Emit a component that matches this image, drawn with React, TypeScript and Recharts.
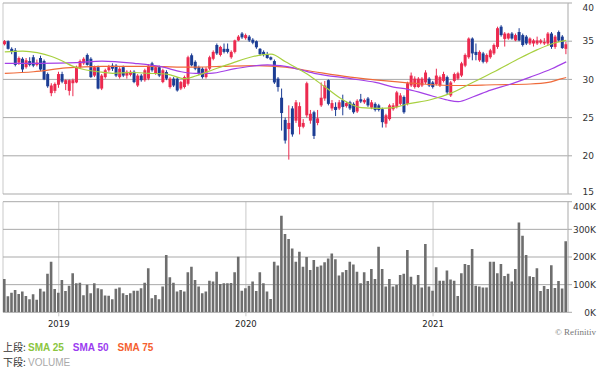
import React from 'react';
import { ComposedChart, BarChart, Bar, Line, XAxis, YAxis, CartesianGrid } from 'recharts';

// ---- data (weekly) ----
const START_MS = Date.UTC(2018, 8, 21);
const WEEK_MS = 7 * 24 * 3600 * 1000;

const opens = [
  34.6, 35.0, 34.0, 33.8, 32.2, 32.7, 31.6, 32.4, 32.9, 31.9,
  32.8, 32.4, 30.7, 28.2, 28.5, 29.3, 30.7, 29.4, 28.5, 29.5,
  29.6, 31.6, 32.1, 33.2, 32.7, 30.5, 31.6, 28.8, 30.3, 31.2,
  31.8, 31.8, 30.3, 31.6, 30.5, 30.6, 31.0, 29.2, 30.5, 29.9,
  30.1, 32.1, 30.75, 31.6, 29.65, 30.96, 29.0, 30.1, 30.1, 28.8,
  29.0, 29.43, 33.16, 32.3, 31.6, 31.4, 30.3, 31.4, 32.7, 34.5,
  33.2, 34.0, 34.0, 32.9, 33.6, 35.1, 36.0, 35.4, 35.6, 35.2,
  35.0, 34.0, 33.6, 33.3, 32.9, 32.4, 30.1, 27.6, 24.7, 23.5,
  26.2, 24.6, 23.8, 23.8, 25.3, 24.6, 25.7, 24.3, 26.6, 27.5,
  29.9, 26.2, 26.4, 26.2, 27.3, 26.5, 27.0, 26.8, 25.8, 27.4,
  27.0, 27.5, 26.3, 26.8, 26.6, 26.1, 24.2, 24.8, 26.1, 26.4,
  26.8, 27.7, 26.8, 29.2, 29.0, 29.0, 29.2, 29.6, 30.1, 29.6,
  29.4, 29.2, 29.8, 30.3, 27.9, 29.8, 30.1, 30.5, 31.8, 32.9,
  35.35, 33.6, 32.5, 33.4, 32.3, 32.9, 33.4, 34.25, 36.9, 35.3,
  35.35, 36.0, 35.1, 36.2, 35.8, 35.6, 34.7, 34.7, 34.7, 34.8,
  34.7, 34.7, 36.0, 34.25, 36.2, 35.6, 34.0,
];
const highs = [
  35.15, 35.1, 34.2, 34.1, 33.0, 32.9, 32.8, 32.9, 33.2, 32.6,
  33.1, 32.6, 30.9, 29.5, 29.6, 31.0, 31.0, 30.0, 30.0, 30.1,
  31.8, 32.6, 32.9, 33.4, 32.9, 31.8, 31.8, 30.7, 31.4, 31.9,
  32.1, 32.0, 31.6, 31.8, 31.2, 31.2, 31.2, 30.7, 30.7, 31.4,
  32.0, 32.3, 31.8, 31.8, 31.4, 31.2, 30.3, 30.3, 30.3, 29.8,
  30.5, 33.1, 33.4, 32.5, 31.8, 31.6, 31.6, 33.1, 33.8, 34.7,
  34.4, 34.7, 34.7, 33.8, 35.2, 35.8, 36.2, 36.0, 35.8, 35.4,
  35.1, 34.1, 33.8, 33.6, 33.0, 32.6, 30.3, 28.8, 25.0, 26.6,
  26.5, 27.3, 27.0, 24.8, 29.7, 26.0, 25.9, 26.0, 29.6, 29.8,
  30.0, 27.3, 27.0, 27.3, 28.0, 27.1, 27.2, 27.0, 27.4, 28.1,
  27.5, 27.7, 27.3, 27.0, 26.8, 26.3, 25.5, 26.8, 26.9, 28.5,
  28.2, 27.9, 29.7, 30.9, 30.4, 30.3, 30.3, 31.2, 30.3, 29.8,
  31.4, 30.5, 31.0, 30.5, 29.8, 30.9, 31.0, 32.3, 33.4, 35.5,
  35.5, 34.7, 33.8, 33.6, 33.4, 34.0, 34.7, 36.9, 37.1, 36.2,
  36.1, 36.2, 36.0, 36.7, 36.0, 35.8, 35.5, 35.3, 35.6, 35.3,
  35.4, 36.2, 36.2, 35.8, 36.4, 35.8, 34.9,
];
const lows = [
  34.45, 33.9, 33.3, 31.7, 31.9, 30.9, 31.4, 31.7, 31.6, 31.7,
  31.1, 29.9, 28.9, 27.8, 28.2, 28.9, 29.5, 28.6, 27.9, 27.8,
  29.5, 31.4, 31.9, 31.8, 30.2, 30.3, 28.7, 28.6, 30.1, 31.0,
  31.1, 30.3, 30.1, 30.3, 30.1, 30.4, 29.5, 29.0, 29.7, 29.7,
  29.9, 31.0, 30.6, 30.3, 29.5, 29.9, 28.8, 29.0, 28.4, 28.6,
  28.8, 29.2, 31.7, 31.2, 30.6, 30.1, 30.1, 31.2, 32.5, 33.2,
  33.0, 33.4, 33.4, 32.7, 33.4, 35.0, 35.3, 35.2, 34.9, 34.6,
  34.0, 33.1, 33.0, 32.7, 32.5, 29.4, 28.4, 23.3, 21.6, 19.5,
  22.5, 24.3, 22.8, 23.6, 25.0, 24.2, 22.2, 24.0, 26.4, 27.2,
  26.6, 25.9, 25.2, 26.0, 25.3, 26.3, 26.0, 25.5, 25.6, 26.9,
  26.8, 26.4, 26.1, 25.8, 25.8, 23.7, 23.7, 24.6, 25.9, 26.2,
  26.6, 25.5, 26.6, 29.0, 28.8, 28.9, 29.0, 29.4, 29.0, 28.8,
  29.2, 29.0, 29.6, 28.0, 27.7, 29.6, 29.9, 30.3, 31.6, 32.7,
  32.5, 32.5, 32.3, 32.1, 32.1, 32.7, 33.2, 34.0, 35.6, 34.3,
  35.2, 35.2, 35.0, 35.0, 34.3, 34.5, 34.5, 34.3, 34.5, 34.6,
  34.5, 34.5, 34.0, 34.0, 34.9, 34.0, 33.3,
];
const closes = [
  35.0, 34.0, 33.6, 31.9, 32.8, 31.3, 32.5, 31.9, 31.8, 32.2,
  31.3, 30.0, 29.1, 29.2, 29.4, 30.7, 29.7, 29.9, 29.9, 29.9,
  31.6, 32.4, 32.7, 31.9, 30.3, 31.6, 28.8, 30.5, 31.2, 31.6,
  31.4, 30.5, 31.4, 30.5, 31.0, 31.0, 29.65, 30.5, 29.9, 31.2,
  31.8, 31.2, 31.6, 30.5, 31.2, 30.1, 30.1, 29.2, 28.55, 29.65,
  30.3, 32.9, 31.84, 31.4, 30.75, 30.3, 31.4, 32.9, 33.6, 33.4,
  34.25, 33.6, 33.6, 33.6, 35.1, 35.6, 35.5, 35.8, 35.1, 34.8,
  34.2, 33.3, 33.2, 32.8, 32.6, 29.6, 29.0, 25.6, 22.0, 24.3,
  22.8, 27.0, 26.5, 24.3, 29.5, 25.5, 22.6, 24.9, 27.6, 29.2,
  26.8, 26.9, 26.0, 27.0, 26.4, 26.9, 26.2, 25.7, 27.2, 27.1,
  27.3, 26.6, 27.0, 26.0, 26.0, 24.4, 25.3, 26.6, 26.6, 28.3,
  27.9, 25.7, 29.5, 30.5, 30.1, 30.1, 30.1, 30.9, 29.2, 29.0,
  30.5, 30.3, 30.7, 28.3, 29.6, 30.7, 30.8, 32.1, 33.2, 35.35,
  33.4, 33.2, 33.6, 32.3, 33.2, 33.8, 34.5, 36.7, 35.8, 36.0,
  36.0, 35.35, 35.8, 35.1, 34.5, 34.7, 35.35, 35.1, 35.1, 35.1,
  34.9, 36.0, 34.25, 35.6, 35.1, 34.1, 34.6,
];
const volumesK = [
  120, 58, 71, 81, 66, 75, 59, 47, 65, 45,
  85, 75, 139, 183, 84, 71, 117, 77, 96, 141,
  105, 107, 62, 100, 69, 105, 87, 83, 61, 60,
  47, 85, 90, 69, 63, 69, 78, 78, 87, 107,
  159, 51, 63, 47, 93, 207, 127, 107, 75, 81,
  75, 145, 165, 117, 93, 69, 75, 114, 111, 147,
  102, 105, 105, 106, 145, 201, 78, 87, 96, 111,
  77, 145, 105, 75, 48, 183, 169, 349, 283, 265,
  231, 183, 219, 165, 200, 153, 189, 165, 169, 181,
  195, 213, 192, 133, 145, 153, 183, 173, 147, 105,
  145, 113, 157, 120, 237, 157, 93, 120, 93, 99,
  135, 139, 225, 129, 99, 135, 90, 247, 93, 78,
  163, 114, 114, 151, 119, 114, 59, 141, 175, 171,
  229, 96, 93, 90, 90, 183, 183, 141, 175, 131,
  139, 111, 157, 325, 277, 207, 130, 128, 159, 77,
  95, 84, 170, 88, 113, 86, 257,
];

// moving averages at sample weeks
const sma25Idx = [0, 5, 9, 13, 16, 19, 22, 26, 30, 35, 40, 45, 50, 54, 58, 63, 69, 74, 78, 84, 89, 94, 99, 104, 108, 112, 118, 124, 130, 136, 142, 148, 153, 156];
const sma25Val = [33.6, 33.7, 33.5, 33.0, 32.4, 31.7, 31.3, 31.0, 30.8, 30.9, 30.8, 30.7, 30.1, 30.6, 31.3, 32.1, 33.0, 33.3, 32.3, 30.7, 29.0, 27.3, 26.3, 26.2, 26.3, 26.8, 27.3, 28.2, 29.6, 31.0, 32.5, 33.9, 34.8, 35.1];
const sma50Idx = [0, 10, 20, 27, 36, 44, 49, 53, 57, 64, 73, 78, 86, 96, 103, 108, 112, 119, 123, 126, 130, 135, 140, 146, 152, 156];
const sma50Val = [32.1, 32.1, 32.2, 32.4, 32.1, 31.6, 31.0, 30.8, 30.8, 31.4, 31.9, 31.7, 30.8, 30.1, 29.6, 29.0, 28.7, 27.8, 27.3, 27.1, 27.7, 28.6, 29.3, 30.3, 31.4, 32.3];
const sma75Idx = [0, 8, 17, 27, 40, 52, 60, 70, 78, 86, 96, 106, 116, 126, 136, 146, 151, 154, 156];
const sma75Val = [30.8, 31.0, 31.5, 31.7, 31.7, 31.6, 31.7, 31.8, 31.6, 31.0, 30.3, 29.8, 29.4, 29.2, 29.3, 29.4, 29.6, 30.0, 30.25];

const weeks = opens.map((_, i) => new Date(START_MS + i * WEEK_MS).toISOString().slice(0, 10));
const yearTicks = ['2019-01-04', '2020-01-03', '2021-01-01'];
const yearLabels = ['2019', '2020', '2021'];
const priceTicks = [15, 20, 25, 30, 35, 40];
const volumeTicks = [0, 100000, 200000, 300000, 400000];

function pick(idx: number[], val: number[], i: number): number | null {
  const k = idx.indexOf(i);
  return k >= 0 ? val[k] : null;
}

const data = weeks.map((d, i) => ({
  d,
  o: opens[i],
  h: highs[i],
  l: lows[i],
  c: closes[i],
  v: volumesK[i] * 1000,
  s25: pick(sma25Idx, sma25Val, i),
  s50: pick(sma50Idx, sma50Val, i),
  s75: pick(sma75Idx, sma75Val, i),
}));

// ---- styles ----
const RED = '#ec2a4f';
const BLUE = '#1c3d94';
const GRID = '#a9a9a9';
const VGRID = '#c9c9c9';
const BORDER = '#c4c4c4';
const FONT = '"DejaVu Sans", sans-serif';

const Candle = (props: any) => {
  const { x, y, width, height, payload } = props;
  if (!payload) return null;
  const top = height < 0 ? y + height : y;
  const hh = Math.abs(height);
  const { o, h, l, c } = payload;
  const up = c >= o;
  const color = up ? RED : BLUE;
  const ppu = h - l > 0 ? hh / (h - l) : 0;
  const yO = top + (h - o) * ppu;
  const yC = top + (h - c) * ppu;
  const bTop = Math.min(yO, yC);
  const bH = Math.max(1, Math.abs(yO - yC));
  const cx = x + width / 2;
  return (
    <g>
      <line x1={cx} x2={cx} y1={top} y2={top + hh} stroke={color} strokeWidth={1} />
      <rect x={x} y={bTop} width={width} height={bH} fill={color} />
    </g>
  );
};

const PriceTick = (p: any) => {
  const { x, y, payload } = p;
  const yy = Math.min(Math.max(y, 7.5), 191.5);
  return (
    <text x={x + 20} y={yy} dy={3.2} textAnchor="end" fontSize={9} fontFamily={FONT} fill="#333">
      {payload.value}
    </text>
  );
};

const VolTick = (p: any) => {
  const { x, y, payload } = p;
  const yy = Math.max(y, 12);
  return (
    <text x={x + 22} y={yy} dy={3.2} textAnchor="end" fontSize={9} fontFamily={FONT} fill="#333">
      {`${payload.value / 1000}K`}
    </text>
  );
};

const YearTick = (p: any) => {
  const { x, y, payload } = p;
  const k = yearTicks.indexOf(payload.value);
  return (
    <text x={x} y={y} dy={8.5} textAnchor="middle" fontSize={8.5} fontFamily={FONT} fill="#222">
      {k >= 0 ? yearLabels[k] : ''}
    </text>
  );
};

export default function App() {
  return (
    <div style={{ position: 'absolute', left: 0, top: 0, width: 600, height: 371, background: '#fff', overflow: 'hidden' }}>
      <div style={{ position: 'absolute', left: 0, top: 0 }}>
        <ComposedChart width={600} height={200} data={data} margin={{ top: 3, right: 0, left: 3, bottom: 6 }}>
          <CartesianGrid yAxisId="p" horizontal={false} vertical stroke={VGRID} />
          <CartesianGrid yAxisId="p" vertical={false} horizontal stroke={GRID} />
          <XAxis dataKey="d" type="category" ticks={yearTicks} interval={0} height={0} tick={false} tickLine={false} axisLine={false} />
          <YAxis yAxisId="b" orientation="left" width={0} domain={[15, 40]} ticks={priceTicks} tick={false} tickLine={false} axisLine={{ stroke: BORDER }} allowDataOverflow />
          <YAxis yAxisId="p" orientation="right" width={32} domain={[15, 40]} ticks={priceTicks} interval={0} allowDataOverflow
            axisLine={{ stroke: BORDER }} tickLine={{ stroke: GRID }} tickSize={4} tickMargin={2} tick={<PriceTick />} />
          <Line yAxisId="p" dataKey="s75" type="monotone" stroke="#ef6a3a" strokeWidth={1.2} dot={false} connectNulls isAnimationActive={false} />
          <Line yAxisId="p" dataKey="s50" type="monotone" stroke="#a440e6" strokeWidth={1.2} dot={false} connectNulls isAnimationActive={false} />
          <Line yAxisId="p" dataKey="s25" type="monotone" stroke="#a8d040" strokeWidth={1.2} dot={false} connectNulls isAnimationActive={false} />
          <Bar yAxisId="p" dataKey={(e: any) => [e.l, e.h]} barSize={3} shape={<Candle />} isAnimationActive={false} />
        </ComposedChart>
      </div>
      <div style={{ position: 'absolute', left: 0, top: 195 }}>
        <BarChart width={600} height={140} data={data} margin={{ top: 6.7, right: 0, left: 3, bottom: 0 }} barCategoryGap="25%">
          <CartesianGrid horizontal={false} vertical stroke={VGRID} />
          <CartesianGrid vertical={false} horizontal stroke={GRID} />
          <XAxis dataKey="d" type="category" ticks={yearTicks} interval={0} height={22.7} tickLine={{ stroke: VGRID }} tickSize={4} tickMargin={2} axisLine={false} tick={<YearTick />} />
          <YAxis yAxisId="b" orientation="left" width={0} domain={[0, 400000]} ticks={volumeTicks} tick={false} tickLine={false} axisLine={{ stroke: BORDER }} allowDataOverflow />
          <YAxis orientation="right" width={32} domain={[0, 400000]} ticks={volumeTicks} interval={0} allowDataOverflow
            axisLine={{ stroke: BORDER }} tickLine={{ stroke: GRID }} tickSize={4} tickMargin={2} tick={<VolTick />} />
          <Bar dataKey="v" fill="#6e6e6e" barSize={2.6} isAnimationActive={false} />
        </BarChart>
      </div>
      <div style={{ position: 'absolute', right: 4, top: 327, fontFamily: '"Liberation Serif", serif', fontSize: 9, color: '#777', whiteSpace: 'nowrap' }}>
        © Refinitiv
      </div>
      <div style={{ position: 'absolute', left: 3, top: 340, fontSize: 10, lineHeight: '14px', whiteSpace: 'nowrap', fontFamily: '"Liberation Sans", "Noto Sans CJK JP", sans-serif' }}>
        <div>
          <span style={{ fontFamily: '"Noto Sans CJK JP", sans-serif', color: '#333' }}>上段: </span>
          <span style={{ fontWeight: 'bold', color: '#8cc63f', marginRight: 9 }}>SMA 25</span>
          <span style={{ fontWeight: 'bold', color: '#9b3cf0', marginRight: 9 }}>SMA 50</span>
          <span style={{ fontWeight: 'bold', color: '#f5602f' }}>SMA 75</span>
        </div>
        <div>
          <span style={{ fontFamily: '"Noto Sans CJK JP", sans-serif', color: '#333' }}>下段: </span>
          <span style={{ color: '#aaaaaa' }}>VOLUME</span>
        </div>
      </div>
    </div>
  );
}
